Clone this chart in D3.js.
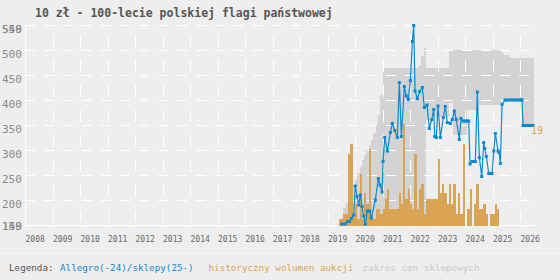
<!DOCTYPE html>
<html>
<head>
<meta charset="utf-8">
<script src="https://cdn.jsdelivr.net/npm/d3@7"></script>
<style>
  html, body { margin: 0; padding: 0; background: #eeeeee; }
  svg { display: block; }
  text { font-family: "DejaVu Sans Mono", monospace; }
</style>
</head>
<body>
<svg id="chart" width="560" height="280"></svg>
<script>
var title = "10 zł - 100-lecie polskiej flagi państwowej";
var yearTicks = [2008, 2009, 2010, 2011, 2012, 2013, 2014, 2015, 2016, 2017,
  2018, 2019, 2020, 2021, 2022, 2023, 2024, 2025, 2026];
var priceTicks = [150, 200, 250, 300, 350, 400, 450, 500, 550];
var priceExtremes = [149, 549];
var lastLabel = "19";

// Allegro prices (decimal year, zł)
var allegroT = [2019.527, 2019.647, 2019.735, 2019.807, 2019.865, 2019.953, 2020.011, 2020.073, 2020.135, 2020.193,
  2020.255, 2020.316, 2020.375, 2020.447, 2020.535, 2020.593, 2020.738, 2020.847, 2020.909, 2020.982,
  2021.018, 2021.080, 2021.175, 2021.284, 2021.356, 2021.444, 2021.538, 2021.611, 2021.684, 2021.793,
  2021.865, 2021.938, 2022.011, 2022.084, 2022.135, 2022.182, 2022.265, 2022.353, 2022.447, 2022.520,
  2022.618, 2022.702, 2022.789, 2022.862, 2022.898, 2022.956, 2023.018, 2023.102, 2023.211, 2023.284,
  2023.356, 2023.465, 2023.538, 2023.611, 2023.684, 2023.793, 2023.855, 2023.927, 2024.011, 2024.073,
  2024.135, 2024.182, 2024.265, 2024.327, 2024.375, 2024.447, 2024.520, 2024.607, 2024.680, 2024.716,
  2024.775, 2024.862, 2024.920, 2024.982, 2025.044, 2025.102, 2025.200, 2025.236, 2025.284, 2025.345];
var allegroV = [152, 152, 157, 157, 163, 170, 228, 207, 190, 210,
  187, 168, 152, 178, 178, 164, 200, 243, 230, 216,
  277, 325, 298, 335, 353, 339, 325, 435, 327, 427,
  408, 401, 439, 517, 549, 418, 403, 417, 425, 385,
  390, 343, 361, 381, 327, 325, 388, 325, 365, 387,
  355, 353, 361, 378, 361, 321, 363, 358, 358, 358,
  358, 272, 277, 277, 277, 416, 285, 247, 315, 303,
  287, 253, 253, 253, 298, 333, 298, 295, 273, 391];

// shop prices (decimal year, zł)
var shopLineT = [2025.455, 2025.538, 2025.622, 2025.705, 2025.788, 2025.872, 2025.955, 2026.038, 2026.073,
  2026.109, 2026.190, 2026.270, 2026.360, 2026.440, 2026.473];
var shopLineV = [400, 400, 400, 400, 400, 400, 400, 400, 400,
  349, 349, 349, 349, 349, 349];

// auction volume per month
var volumeMonths = ["2019-06", "2019-07", "2019-08", "2019-09", "2019-10", "2019-11", "2019-12",
  "2020-01", "2020-02", "2020-03", "2020-04", "2020-05", "2020-06", "2020-07", "2020-08", "2020-09",
  "2020-10", "2020-11", "2020-12", "2021-01", "2021-02", "2021-03", "2021-04", "2021-05", "2021-06",
  "2021-07", "2021-08", "2021-09", "2021-10", "2021-11", "2021-12", "2022-01", "2022-02", "2022-03",
  "2022-04", "2022-05", "2022-06", "2022-07", "2022-08", "2022-09", "2022-10", "2022-11", "2022-12",
  "2023-01", "2023-02", "2023-03", "2023-04", "2023-05", "2023-06", "2023-07", "2023-08", "2023-09",
  "2023-10", "2023-11", "2023-12", "2024-02", "2024-03", "2024-05", "2024-06", "2024-07", "2024-08",
  "2024-09", "2024-10", "2024-12", "2025-01", "2025-02", "2025-03"];
var volumeCount = [1, 1, 2, 2, 14, 16, 2,
  4, 1, 10, 1, 6, 4, 15, 1, 1,
  3, 3, 2, 3, 5, 7, 3, 3, 3,
  3, 6, 4, 20, 5, 7, 4, 3, 14,
  3, 7, 8, 2, 5, 5, 5, 5, 5,
  13, 6, 8, 6, 4, 8, 4, 8, 2,
  6, 2, 16, 3, 7, 4, 8, 3, 3,
  4, 2, 2, 2, 4, 3];

// shop price range per month
var shopMonths = ["2019-07", "2019-08", "2019-09", "2019-10", "2019-11", "2019-12",
  "2020-01", "2020-02", "2020-03", "2020-04", "2020-05", "2020-06", "2020-07", "2020-08", "2020-09", "2020-10", "2020-11", "2020-12",
  "2021-01", "2021-02", "2021-03", "2021-04", "2021-05", "2021-06", "2021-07", "2021-08", "2021-09", "2021-10", "2021-11", "2021-12",
  "2022-01", "2022-02", "2022-03", "2022-04", "2022-05", "2022-06", "2022-07", "2022-08", "2022-09", "2022-10", "2022-11", "2022-12",
  "2023-01", "2023-02", "2023-03", "2023-04", "2023-05", "2023-06", "2023-07", "2023-08", "2023-09", "2023-10", "2023-11", "2023-12",
  "2024-01", "2024-02", "2024-03", "2024-04", "2024-05", "2024-06", "2024-07", "2024-08", "2024-09", "2024-10", "2024-11", "2024-12",
  "2025-01", "2025-02", "2025-03", "2025-04", "2025-05", "2025-06", "2025-07", "2025-08", "2025-09", "2025-10", "2025-11", "2025-12",
  "2026-01", "2026-02", "2026-03", "2026-04", "2026-05", "2026-06", "2026-07"];
var shopMax = [164, 184, 194, 206, 216, 230,
  240, 254, 266, 280, 290, 300, 310, 320, 334, 352, 370, 410,
  464, 464, 464, 464, 464, 464, 464, 464, 464, 464, 464, 464,
  464, 464, 464, 464, 470, 488, 504, 464, 464, 464, 464, 464,
  464, 464, 464, 464, 464, 501, 501, 501, 501, 501, 501, 501,
  501, 501, 501, 501, 501, 501, 501, 501, 501, 501, 501, 501,
  501, 501, 501, 497, 494, 490, 490, 486, 484, 483, 483, 483,
  483, 483, 483, 483, 483, 483, 483];
var shopMin = [149, 149, 149, 149, 149, 149,
  149, 149, 149, 149, 149, 149, 149, 149, 149, 149, 149, 149,
  149, 149, 149, 149, 149, 149, 149, 149, 149, 149, 149, 149,
  149, 149, 149, 149, 149, 149, 149, 360, 360, 367, 367, 367,
  367, 367, 367, 367, 367, 393, 393, 330, 330, 330, 330, 330,
  330, 380, 380, 380, 380, 380, 390, 390, 390, 390, 390, 390,
  390, 390, 390, 390, 400, 400, 400, 400, 400, 400, 400, 400,
  400, 349, 349, 349, 349, 349, 349];

var colours = {
  blue: "#0a89d0",
  orange: "#d9a554",
  range: "#d3d3d3",
  grid: "#ffffff",
  text: "#555555"
};

function toDate(t) {
  "use strict";
  var y = Math.floor(t);
  var s = Date.UTC(y, 0, 1), e = Date.UTC(y + 1, 0, 1);
  return new Date(s + (t - y) * (e - s));
}

function monthDate(str) {
  "use strict";
  var p = str.split("-");
  return new Date(Date.UTC(+p[0], +p[1] - 1, 1));
}

var svg = d3.select("#chart");
var plot = { left: 25, right: 536, top: 25, bottom: 225 };

var x = d3.scaleUtc()
  .domain([new Date(Date.UTC(2008, 0, 1)), new Date(Date.UTC(2026, 7, 1))])
  .range([plot.left, plot.right]);
var y = d3.scaleLinear().domain([150, 550]).range([plot.bottom, plot.top]);
var yVol = d3.scaleLinear().domain([-0.5, 20]).range([226, 123.5]);

function monthX(m) {
  return Math.round(x(monthDate(m)));
}

svg.append("rect").attr("width", 560).attr("height", 280).attr("fill", "#eeeeee");

// shop price range, one column per month
svg.append("g").attr("fill", colours.range).attr("shape-rendering", "crispEdges")
  .selectAll("rect").data(shopMonths.slice(0, -1)).enter()
  .append("rect")
  .attr("x", function (m) { return monthX(m); })
  .attr("width", function (m, i) { return monthX(shopMonths[i + 1]) - monthX(m); })
  .attr("y", function (m, i) { return Math.round(y(shopMax[i])); })
  .attr("height", function (m, i) { return Math.round(y(shopMin[i])) - Math.round(y(shopMax[i])); });

// grid
var grid = svg.append("g").attr("stroke", colours.grid).attr("fill", "none")
  .attr("shape-rendering", "crispEdges");
grid.selectAll("line.h").data(priceTicks).enter()
  .append("line")
  .attr("x1", plot.left).attr("x2", plot.right)
  .attr("y1", function (v) { return y(v) + 0.5; })
  .attr("y2", function (v) { return y(v) + 0.5; })
  .attr("stroke-dasharray", function (v) { return v === 150 ? null : "10,9"; });
grid.selectAll("line.v").data(yearTicks.slice(1)).enter()
  .append("line")
  .attr("x1", function (yr) { return Math.round(x(new Date(Date.UTC(yr, 0, 1)))) + 0.5; })
  .attr("x2", function (yr) { return Math.round(x(new Date(Date.UTC(yr, 0, 1)))) + 0.5; })
  .attr("y1", 35).attr("y2", plot.bottom)
  .attr("stroke-dasharray", "12,13");
grid.append("line")
  .attr("x1", plot.left + 0.5).attr("x2", plot.left + 0.5)
  .attr("y1", plot.top).attr("y2", plot.bottom);
grid.selectAll("line.t").data(yearTicks).enter()
  .append("line")
  .attr("x1", function (yr) { return Math.round(x(new Date(Date.UTC(yr, 0, 1)))) + 0.5; })
  .attr("x2", function (yr) { return Math.round(x(new Date(Date.UTC(yr, 0, 1)))) + 0.5; })
  .attr("y1", plot.bottom).attr("y2", plot.bottom + 3);

// volume bars
svg.append("g").attr("fill", colours.orange).attr("shape-rendering", "crispEdges")
  .selectAll("rect").data(volumeMonths).enter()
  .append("rect")
  .attr("x", function (m) { return monthX(m); })
  .attr("width", function (m) {
    var d = monthDate(m);
    return Math.round(x(d3.utcMonth.offset(d, 1))) - monthX(m);
  })
  .attr("y", function (m, i) { return Math.round(yVol(volumeCount[i])); })
  .attr("height", function (m, i) { return 226 - Math.round(yVol(volumeCount[i])); });

// price line
var pts = allegroT.map(function (t, i) { return { d: toDate(t), v: allegroV[i] }; })
  .concat(shopLineT.map(function (t, i) { return { d: toDate(t), v: shopLineV[i] }; }));
svg.append("path")
  .datum(pts)
  .attr("fill", "none")
  .attr("stroke", colours.blue)
  .attr("stroke-width", 1.2)
  .attr("d", d3.line()
    .x(function (p) { return x(p.d); })
    .y(function (p) { return y(p.v); }));
svg.append("g").attr("fill", colours.blue)
  .selectAll("rect").data(pts).enter()
  .append("rect")
  .attr("x", function (p) { return x(p.d) - 1.5; })
  .attr("y", function (p) { return y(p.v) - 1.5; })
  .attr("width", 3).attr("height", 3);

var last = pts[pts.length - 1];
svg.append("text")
  .attr("x", x(last.d) - 2).attr("y", y(last.v) + 8)
  .attr("fill", colours.orange)
  .attr("font-size", "10px")
  .text(lastLabel);

// y labels
var yLabels = priceTicks.concat(priceExtremes);
svg.append("g").selectAll("text").data(yLabels).enter()
  .append("text")
  .attr("x", 2)
  .attr("y", function (v) { return Math.min(y(v) + 7.5, 230); })
  .attr("fill", "#8a8a8a")
  .attr("font-family", "'Liberation Sans', Arial, sans-serif")
  .attr("font-size", "11px")
  .text(function (v) { return v; });

// x labels
svg.append("g").selectAll("text").data(yearTicks).enter()
  .append("text")
  .attr("x", function (yr) { return x(new Date(Date.UTC(yr, 0, 1))) + 0.5; })
  .attr("y", 242)
  .attr("fill", "#666666")
  .attr("font-size", "8px")
  .text(function (yr) { return yr; });

// title
svg.append("text")
  .attr("x", 35).attr("y", 16.5)
  .attr("fill", colours.text)
  .attr("font-size", "11.5px")
  .attr("font-weight", "bold")
  .text(title);

// legend
svg.append("line")
  .attr("x1", 0).attr("x2", 560).attr("y1", 253.5).attr("y2", 253.5)
  .attr("stroke", "#f7f7f7");
var legend = [
  { x: 9, text: "Legenda:", fill: "#555555" },
  { x: 60, text: "Allegro(-24)/sklepy(25-)", fill: colours.blue },
  { x: 208.5, text: "historyczny wolumen aukcji", fill: colours.orange },
  { x: 362.5, text: "zakres cen sklepowych", fill: "#c8c8c8" }
];
svg.append("g").selectAll("text").data(legend).enter()
  .append("text")
  .attr("x", function (l) { return l.x; })
  .attr("y", 270.5)
  .attr("font-size", "9.25px")
  .attr("fill", function (l) { return l.fill; })
  .text(function (l) { return l.text; });
</script>
</body>
</html>
